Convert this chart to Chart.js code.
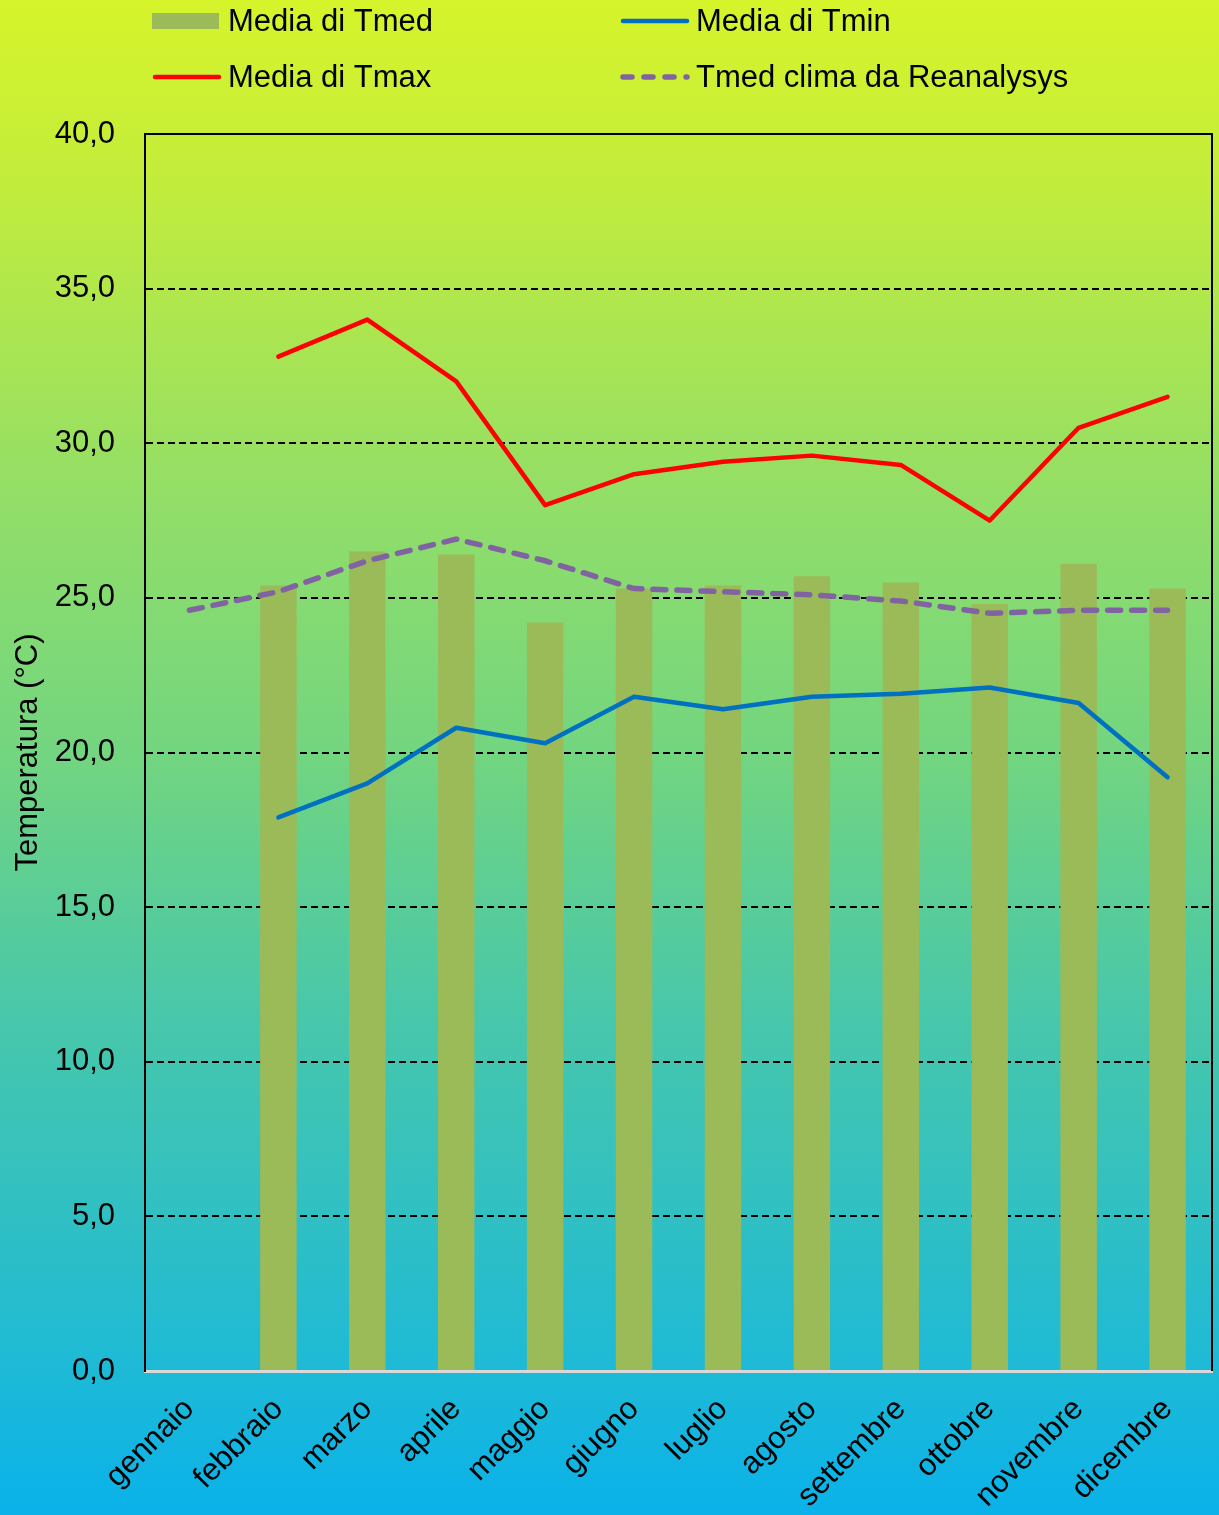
<!DOCTYPE html>
<html>
<head>
<meta charset="utf-8">
<script src="https://cdn.jsdelivr.net/npm/chart.js@4/dist/chart.umd.min.js"></script>
<style>
html,body{margin:0;padding:0;background:#0cb2e8;}
#wrap{position:relative;width:1219px;height:1515px;}
</style>
</head>
<body>
<div id="wrap"><canvas id="c" width="1219" height="1515"></canvas></div>
<script>
const months = ['gennaio','febbraio','marzo','aprile','maggio','giugno','luglio','agosto','settembre','ottobre','novembre','dicembre'];
const tmed = [null,25.4,26.5,26.4,24.2,25.3,25.4,25.7,25.5,24.8,26.1,25.3];
const tmax = [null,32.8,34.0,32.0,28.0,29.0,29.4,29.6,29.3,27.5,30.5,31.5];
const tmin = [null,17.9,19.0,20.8,20.3,21.8,21.4,21.8,21.9,22.1,21.6,19.2];
const reanalysis = [24.6,25.2,26.2,26.9,26.2,25.3,25.2,25.1,24.9,24.5,24.6,24.6];
const yTicks = [0,5,10,15,20,25,30,35,40];
const yTitle = 'Temperatura (°C)';

const FONT = '"Liberation Sans", Arial, sans-serif';
const FS = 31;

const bgPlugin = {
  id:'bg',
  beforeDraw(chart){
    const ctx = chart.ctx, h = chart.height, w = chart.width;
    const g = ctx.createLinearGradient(0,0,0,h);
    g.addColorStop(0,'#d6f42a');
    g.addColorStop(0.1,'#c6ee38');
    g.addColorStop(0.33,'#92de68');
    g.addColorStop(0.5,'#72d580');
    g.addColorStop(0.66,'#4ac8a8');
    g.addColorStop(0.9,'#1ebad6');
    g.addColorStop(1,'#0ab2ea');
    ctx.save();
    ctx.fillStyle = g;
    ctx.fillRect(0,0,w,h);
    ctx.restore();
  }
};

const framePlugin = {
  id:'frame',
  afterDatasetsDraw(chart){
    const {ctx, chartArea:a} = chart;
    ctx.save();
    ctx.strokeStyle = '#000';
    ctx.lineWidth = 2;
    ctx.beginPath();
    ctx.moveTo(a.left, a.top);
    ctx.lineTo(a.right, a.top);
    ctx.lineTo(a.right, a.bottom);
    ctx.stroke();
    ctx.restore();
  }
};

const legendPlugin = {
  id:'customLegend',
  afterDraw(chart){
    const ctx = chart.ctx;
    const ds = chart.data.datasets;
    const pos = [[152,21],[620,21],[152,77],[620,77]];
    const orderIdx = [0,2,1,3]; // Tmed, Tmin, Tmax, Reanalysis
    ctx.save();
    ctx.font = FS + 'px ' + FONT;
    ctx.textBaseline = 'middle';
    ctx.fillStyle = '#000';
    orderIdx.forEach((di,k)=>{
      const d = ds[di];
      const [x,y] = pos[k];
      if (d.type === 'bar') {
        ctx.fillStyle = d.backgroundColor;
        ctx.fillRect(x, y-8, 67, 16);
      } else {
        ctx.strokeStyle = d.borderColor;
        ctx.lineWidth = d.borderWidth;
        ctx.lineCap = 'round';
        ctx.setLineDash(d.borderDash ? [9,12] : []);
        ctx.beginPath();
        ctx.moveTo(x + 3, y);
        ctx.lineTo(x + 67, y);
        ctx.stroke();
        ctx.setLineDash([]);
      }
      ctx.fillStyle = '#000';
      ctx.fillText(d.label, x + 76, y + 1);
    });
    ctx.restore();
  }
};

new Chart(document.getElementById('c'), {
  data: {
    labels: months,
    datasets: [
      {type:'bar', label:'Media di Tmed', data:tmed, backgroundColor:'#9bbb59', order:10,
       barPercentage:0.41, categoryPercentage:1.0},
      {type:'line', label:'Media di Tmax', data:tmax, borderColor:'#ff0000', borderWidth:4.5,
       borderCapStyle:'round', borderJoinStyle:'round', pointRadius:0, tension:0, order:2, spanGaps:false},
      {type:'line', label:'Media di Tmin', data:tmin, borderColor:'#0070c0', borderWidth:4.5,
       borderCapStyle:'round', borderJoinStyle:'round', pointRadius:0, tension:0, order:3},
      {type:'line', label:'Tmed clima da Reanalysys', data:reanalysis, borderColor:'#8064a2', borderWidth:5.5,
       borderDash:[13,11], borderCapStyle:'round', pointRadius:0, tension:0, order:1}
    ]
  },
  options: {
    responsive:false,
    animation:false,
    devicePixelRatio:1,
    layout:{padding:{top:134, right:7, left:0, bottom:0}},
    plugins:{legend:{display:false}, tooltip:{enabled:false}},
    scales:{
      x:{
        grid:{display:false, drawTicks:false},
        border:{display:true, color:'#d9d9d9', width:3},
        ticks:{color:'#000', font:{family:FONT, size:FS}, minRotation:45, maxRotation:45, padding:20, autoSkip:false},
        afterFit(s){ s.height = 144; }
      },
      y:{
        min:0, max:40,
        afterBuildTicks(s){ s.ticks = yTicks.map(v=>({value:v})); },
        ticks:{color:'#000', font:{family:FONT, size:FS}, padding:30,
          callback:(v)=>Number(v).toFixed(1).replace('.',',')},
        grid:{
          drawTicks:false,
          color:(c)=> (c.tick && (c.tick.value===0 || c.tick.value===40)) ? 'rgba(0,0,0,0)' : '#000',
          lineWidth:2
        },
        border:{display:true, color:'#000', width:2, dash:[7,4]},
        title:{display:true, text:yTitle, color:'#000', font:{family:FONT, size:FS}, padding:{top:10,bottom:4}},
        afterFit(s){ s.width = 145; }
      }
    }
  },
  plugins:[bgPlugin, framePlugin, legendPlugin]
});
</script>
</body>
</html>
